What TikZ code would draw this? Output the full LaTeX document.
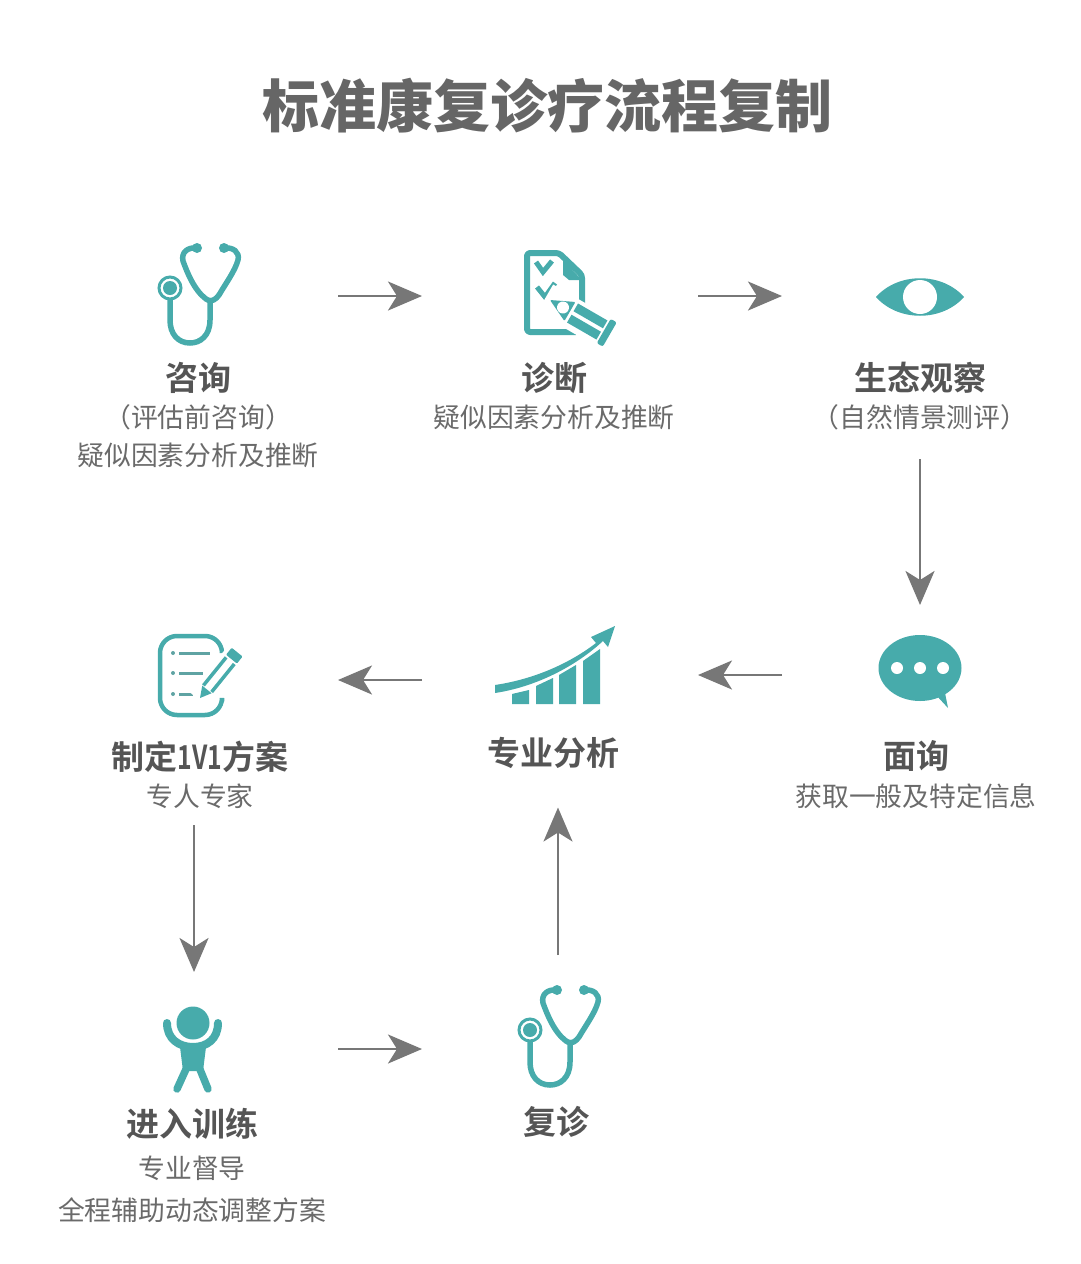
\documentclass[tikz,border=0pt]{standalone}
\usepackage{fontspec}
\usepackage{graphicx}
\usetikzlibrary{arrows.meta,calc}
\setmainfont{Liberation Sans}
\newfontfamily\cjk[BoldFont={Noto Sans CJK SC Bold}]{Noto Sans CJK SC}
\newfontfamily\cjkblack{Noto Sans CJK SC Black}
\definecolor{teal}{HTML}{47ABAB}
\definecolor{tealdark}{HTML}{5FA3A3}
\definecolor{arrowgray}{HTML}{777777}
\definecolor{titlegray}{HTML}{666666}
\definecolor{headgray}{HTML}{555555}
\definecolor{subgray}{HTML}{6A6A6A}
\tikzset{
  iconbox/.style={inner sep=0pt, outer sep=0pt, minimum width=276pt, minimum height=160pt},
  flow/.style={draw=arrowgray, line width=2.4pt, -{Stealth[length=34pt,width=29pt,inset=9pt]}},
  head/.style={inner sep=0pt, outer sep=0pt, text=headgray, font=\cjk\bfseries\fontsize{33}{33}\selectfont, text height=29pt, text depth=4pt},
  subtext/.style={inner sep=0pt, outer sep=0pt, text=subgray, font=\cjk\fontsize{26.8}{27}\selectfont, text height=23.4pt, text depth=3.2pt},
  steth/.pic={
    \draw[teal, line width=5.5pt, line cap=round, line join=round]
      (-3,-48) .. controls (-12,-49) and (-19,-44) .. (-17,-35) .. controls (-13,-24) and (-6,-6) .. (6,3)
      .. controls (12,7) and (16,3) .. (19,-1) .. controls (26,-13) and (35,-25) .. (38,-36) .. controls (40,-44) and (33,-49) .. (24,-48);
    \fill[teal] (-3,-48) circle (5) (24,-48) circle (5);
    \draw[teal, line width=5.5pt] (10,4) -- (10,24) .. controls (10,40) and (0,47) .. (-10,47) .. controls (-22,47) and (-30,38) .. (-30,24) -- (-30,3);
    \draw[teal, line width=3pt, fill=white] (-30,-8) circle (11);
    \fill[teal] (-30,-8) circle (7);
  },
  docicon/.pic={
    \draw[teal, line width=6pt, line join=round, rounded corners=3pt]
      (16,36) -- (-33,36) -- (-33,-43) -- (-1,-43) -- (22,-21) -- (22,12);
    \fill[teal] (3,-36) -- (22,-16) -- (9,-16) -- (3,-21) -- cycle;
    \foreach \xa/\ya/\xb/\yb/\xc/\yc in {-24/-34/-17/-24/-8/-35, -23/-9/-15/1/-5/-13}
      \draw[teal, line width=5pt] (\xa,\ya) -- (\xb,\yb) -- (\xc,\yc);
    \begin{scope}[shift={(-10,4)}, rotate=-30]
      \fill[white] (-5,-15) rectangle (76,17);
      \fill[teal, rounded corners=1pt] (0,0) -- (23,-11) -- (23,11) -- cycle;
      \fill[white] (15,0) ellipse (6 and 6);
      \fill[teal] (26,-11) rectangle (60,-2) (26,2) rectangle (60,11);
      \fill[teal, rounded corners=2pt] (62,-14) rectangle (69,14);
    \end{scope}
  },
  eyeicon/.pic={
    \fill[teal] (-44,1) .. controls (-22,-24) and (22,-24) .. (44,1) .. controls (22,26) and (-22,26) .. cycle;
    \fill[white] (0,1) circle (17);
  },
  chaticon/.pic={
    \fill[teal] (0,-7) ellipse (41.5 and 33);
    \fill[teal] (16,20) -- (28,33) -- (25,18) -- cycle;
    \foreach \x in {-23,0,23} \fill[white] (\x,-7) circle (6);
  },
  charticon/.pic={
    \fill[teal] (-48,29) -- (-48,19) -- (-31,15) -- (-31,29) -- cycle;
    \fill[teal] (-24,29) -- (-24,11) -- (-7,3) -- (-7,29) -- cycle;
    \fill[teal] (-1,29) -- (-1,0) -- (16,-10) -- (16,29) -- cycle;
    \fill[teal] (23,29) -- (23,-14) -- (40,-26) -- (40,29) -- cycle;
    \fill[teal] (-65,10) .. controls (-25,4) and (10,-12) .. (36,-32) -- (31,-38) -- (55,-49) -- (48,-28) -- (43,-34)
      .. controls (15,-8) and (-25,12) .. (-65,18) -- cycle;
  },
  planicon/.pic={
    \draw[teal, line width=4.5pt, line cap=round, rounded corners=17pt]
      (22,-28) -- (22,-44) -- (-40,-44) -- (-40,35) -- (22,35) -- (22,21);
    \foreach \ya/\xa in {-27/10, -7/3, 14/-7} {
      \fill[tealdark] (-27,\ya) circle (2);
      \draw[tealdark, line width=3pt] (-21,\ya) -- (\xa,\ya);
    }
    \begin{scope}[shift={(0,18)}, rotate=51]
      \fill[white] (-2,-11) rectangle (64,11);
      \fill[teal] (0,0) -- (11,-6) -- (11,6) -- cycle;
      \fill[teal] (12,-7) rectangle (48,-3.5) (12,3.5) rectangle (48,7);
      \fill[teal, rounded corners=1pt] (50,-7) rectangle (59,7);
    \end{scope}
  },
  personicon/.pic={
    \fill[teal] (-7,-26) circle (16.5);
    \draw[teal, line width=8pt, line cap=round] (-33,-26) .. controls (-33,-10) and (-21,-2) .. (-7,-2) .. controls (7,-2) and (18,-10) .. (18,-26);
    \fill[teal] (-20,-2) -- (6,-2) -- (3,22) -- (-17,22) -- cycle;
    \draw[teal, line width=7.5pt, line cap=round] (-13,18) -- (-23,40);
    \draw[teal, line width=7.5pt, line cap=round] (-1,18) -- (8,40);
  }
}
\begin{document}
\begin{tikzpicture}[x=1pt,y=-1pt]
  \useasboundingbox (0,0) rectangle (1080,1264);
  \node[inner sep=0pt, text=titlegray, font=\cjkblack\fontsize{57}{57}\selectfont] (title) at (547,106) {标准康复诊疗流程复制};

  % icon slots, first row
  \node[iconbox] (consult) at (200,296) {};
  \node[iconbox] (diag) at (560,296) {};
  \node[iconbox] (obs) at (920,296) {};
  % second row
  \node[iconbox] (chat) at (920,675) {};
  \node[iconbox] (analysis) at (560,675) {};
  \node[iconbox] (plan) at (200,680) {};
  % third row
  \node[iconbox] (train) at (200,1049) {};
  \node[iconbox] (recheck) at (560,1038) {};

  \pic at (consult) {steth};
  \pic at (diag) {docicon};
  \pic at (obs) {eyeicon};
  \pic at (chat) {chaticon};
  \pic at (analysis) {charticon};
  \pic at (plan) {planicon};
  \pic at (train) {personicon};
  \pic at (recheck) {steth};

  \node[head] (consulthead) at (198,378) {咨询};
  \node[subtext] (consultsub) at (198,417) {（评估前咨询）};
  \node[subtext] (consultnote) at (198,455) {疑似因素分析及推断};
  \node[head] (diaghead) at (554,378) {诊断};
  \node[subtext] (diagsub) at (554,417) {疑似因素分析及推断};
  \node[head] (obshead) at (920,378) {生态观察};
  \node[subtext] (obssub) at (920,417) {（自然情景测评）};
  \node[head] (chathead) at (916,756) {面询};
  \node[subtext] (chatsub) at (916,796) {获取一般及特定信息};
  \node[head] (analysishead) at (553,753) {专业分析};
  \node[head] (planhead) at (200,757) {制定\scalebox{0.75}[1]{1V1}方案};
  \node[subtext] (plansub) at (200,796) {专人专家};
  \node[head] (trainhead) at (192,1124) {进入训练};
  \node[subtext] (trainsub) at (192,1168) {专业督导};
  \node[subtext] (trainnote) at (192,1210) {全程辅助动态调整方案};
  \node[head] (recheckhead) at (556,1122) {复诊};

  \draw[flow] (consult.east) -- (diag.west);
  \draw[flow] (diag.east) -- (obs.west);
  \draw[flow, shorten <=29pt, shorten >=-10pt] (obssub.south) -- (chat.north);
  \draw[flow] (chat.west) -- (analysis.east);
  \draw[flow] (analysis.west |- plan.east) -- (plan.east);
  \coordinate (trainin) at ([xshift=-6pt]train.north);
  \draw[flow, shorten <=16pt, shorten >=-3pt] (plansub.south -| trainin) -- (trainin);
  \draw[flow] (train.east) -- (recheck.west |- train.east);
  \coordinate (recheckout) at ([xshift=-2pt]recheck.north);
  \draw[flow, shorten <=3pt, shorten >=38pt] (recheckout) -- (recheckout |- analysishead.south);
\end{tikzpicture}
\end{document}
